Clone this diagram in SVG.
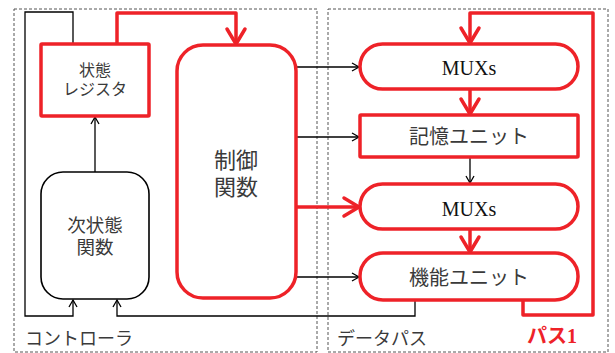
<svg xmlns="http://www.w3.org/2000/svg" width="615" height="353" viewBox="0 0 615 353">
<style>
.bg{fill:#fff}
.dash{fill:none;stroke:#555;stroke-width:1;stroke-dasharray:3,2}
.red{fill:#fff;stroke:#ee2228;stroke-width:3.5}
.blk{fill:#fff;stroke:#000;stroke-width:1.6}
.rl{fill:none;stroke:#ee2228;stroke-width:3.5;stroke-linejoin:round}
.bl{fill:none;stroke:#000;stroke-width:1.3}
.jp{font-family:"Liberation Sans","Noto Sans CJK JP",sans-serif;fill:#3a3a3a;text-anchor:middle}
.lbl{font-family:"Liberation Sans","Noto Sans CJK JP",sans-serif;fill:#3a3a3a}
.mux{font-family:"Liberation Serif",serif;font-size:20px;fill:#111;text-anchor:middle}
</style>
<defs>
<marker id="ra" viewBox="-20 -12 24 24" markerWidth="24" markerHeight="24" refX="0" refY="0" orient="auto" markerUnits="userSpaceOnUse">
<path d="M-15,-9 L0,0 L-15,9" fill="none" stroke="#ee2228" stroke-width="3.5" stroke-linecap="round" stroke-linejoin="round"/>
</marker>
<marker id="ba" viewBox="-10 -6 12 12" markerWidth="12" markerHeight="12" refX="0" refY="0" orient="auto" markerUnits="userSpaceOnUse">
<path d="M-7,-4 L0,0 L-7,4" fill="none" stroke="#000" stroke-width="1.3"/>
</marker>
</defs>
<rect class="bg" x="0" y="0" width="615" height="353"/>
<g id="regions">
<rect class="dash" x="14" y="9" width="303" height="343"/>
<rect class="dash" x="328" y="9" width="280" height="343"/>
<text class="lbl" x="25" y="345" font-size="18">コントローラ</text>
<text class="lbl" x="337" y="345" font-size="18">データパス</text>
<text x="527" y="343" font-size="20" font-weight="bold" fill="#ee2228" font-family="'Liberation Serif','Noto Sans CJK JP',serif">パス1</text>
</g>
<g id="connectors">
<polyline class="bl" points="73,44 73,12 25,12 25,316 73,316 73,300" marker-end="url(#ba)"/>
<polyline class="bl" points="415,300 415,316 117,316 117,300" marker-end="url(#ba)"/>
<line class="bl" x1="95" y1="172" x2="95" y2="117" marker-end="url(#ba)"/>
<line class="bl" x1="296" y1="67" x2="359" y2="67" marker-end="url(#ba)"/>
<line class="bl" x1="296" y1="137" x2="359" y2="137" marker-end="url(#ba)"/>
<line class="bl" x1="296" y1="277" x2="359" y2="277" marker-end="url(#ba)"/>
<line class="bl" x1="470" y1="157" x2="470" y2="183" marker-end="url(#ba)"/>
<polyline class="rl" points="117,44 117,13 236,13 236,44" marker-end="url(#ra)"/>
<line class="rl" x1="296" y1="207" x2="359" y2="207" marker-end="url(#ra)"/>
<polyline class="rl" points="523,300 523,315 593,315 593,13 470,13 470,43" marker-end="url(#ra)"/>
<line class="rl" x1="470" y1="89" x2="470" y2="114" marker-end="url(#ra)"/>
<line class="rl" x1="470" y1="229" x2="470" y2="252" marker-end="url(#ra)"/>
</g>
<g id="state-register">
<rect class="red" x="41" y="44" width="108" height="72" rx="1"/>
<text class="jp" x="95" y="76" font-size="16">状態</text>
<text class="jp" x="95" y="95" font-size="16">レジスタ</text>
</g>
<g id="next-state-function">
<rect class="blk" x="41" y="172" width="108" height="127" rx="22"/>
<text class="jp" x="95" y="232" font-size="18.5">次状態</text>
<text class="jp" x="95" y="254" font-size="18.5">関数</text>
</g>
<g id="control-function">
<rect class="red" x="177" y="45" width="119" height="253" rx="26"/>
<text class="jp" x="236" y="168" font-size="22">制御</text>
<text class="jp" x="236" y="195" font-size="22">関数</text>
</g>
<g id="mux1">
<rect class="red" x="360" y="44" width="218" height="45" rx="22.5"/>
<text class="mux" x="469" y="75">MUXs</text>
</g>
<g id="memory-unit">
<rect class="red" x="360" y="115" width="218" height="42" rx="1"/>
<text class="jp" x="469" y="144" font-size="20">記憶ユニット</text>
</g>
<g id="mux2">
<rect class="red" x="360" y="184" width="218" height="45" rx="22.5"/>
<text class="mux" x="469" y="216">MUXs</text>
</g>
<g id="functional-unit">
<rect class="red" x="360" y="253" width="218" height="47" rx="23"/>
<text class="jp" x="469" y="285" font-size="20">機能ユニット</text>
</g>
</svg>
